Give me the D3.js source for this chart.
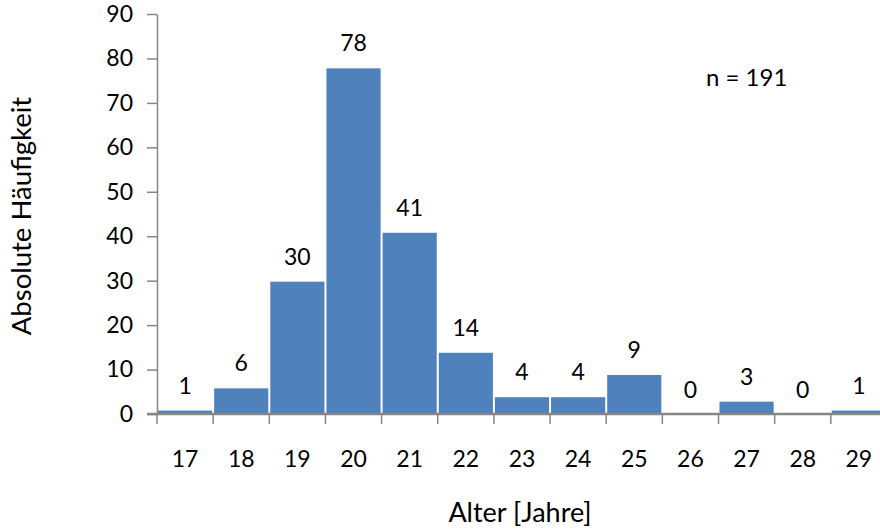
<!DOCTYPE html>
<html><head><meta charset="utf-8">
<script src="https://cdn.jsdelivr.net/npm/d3@7/dist/d3.min.js"></script>
<style>
html,body{margin:0;padding:0;background:#fff;overflow:hidden;}
svg{display:block;font-family:Lato, "Open Sans", sans-serif;}
</style></head>
<body>
<svg id="chart" width="880" height="529"></svg>
<script>
const categories = ["17","18","19","20","21","22","23","24","25","26","27","28","29"];
const counts = [1, 6, 30, 78, 41, 14, 4, 4, 9, 0, 3, 0, 1];
const yTicks = [0, 10, 20, 30, 40, 50, 60, 70, 80, 90];
const xTitle = "Alter [Jahre]";
const yTitle = "Absolute Häufigkeit";
const note = "n = 191";

const svg = d3.select("#chart");
const plotLeft = 157, plotBottom = 414, plotTop = 14, bandW = 56.15;
const x = d3.scaleBand().domain(categories).range([plotLeft, plotLeft + bandW * categories.length]).padding(0);
const y = d3.scaleLinear().domain([0, 90]).range([plotBottom, plotTop]);
const axisColor = "#868686";
const barColor = "#4F81BD";
const fs = "23px";

// bars
svg.append("g").selectAll("rect").data(categories).join("rect")
  .attr("x", d => x(d) + 1)
  .attr("width", x.bandwidth() - 2)
  .attr("y", (d, i) => y(counts[i]) + 1)
  .attr("height", (d, i) => Math.max(0, y(0) - y(counts[i]) - 1))
  .attr("fill", barColor);

// y axis
const yAxis = svg.append("g").attr("transform", `translate(${plotLeft},0)`)
  .call(d3.axisLeft(y).tickValues(yTicks).tickSize(10).tickPadding(14).tickSizeOuter(0));
yAxis.select(".domain").attr("stroke", axisColor).attr("stroke-width", 1.5);
yAxis.selectAll(".tick line").attr("stroke", axisColor).attr("stroke-width", 1.5);
yAxis.selectAll(".tick text").attr("fill", "#000").style("font-size", fs).style("font-family", "Lato");

// x axis line
svg.append("line").attr("x1", plotLeft - 10).attr("x2", 880).attr("y1", y(0)).attr("y2", y(0))
  .attr("stroke", axisColor).attr("stroke-width", 2.5);
// x boundary ticks
svg.append("g").selectAll("line").data(categories).join("line")
  .attr("x1", d => x(d)).attr("x2", d => x(d))
  .attr("y1", y(0)).attr("y2", y(0) + 10)
  .attr("stroke", axisColor).attr("stroke-width", 1.5);
// x labels
const xAxis = svg.append("g").attr("transform", `translate(0,${y(0)})`)
  .call(d3.axisBottom(x).tickSize(0).tickPadding(37));
xAxis.select(".domain").remove();
xAxis.selectAll(".tick text").attr("fill", "#000").style("font-size", fs).style("font-family", "Lato");

// value labels
svg.append("g").selectAll("text").data(categories).join("text")
  .attr("x", d => x(d) + x.bandwidth() / 2)
  .attr("y", (d, i) => y(counts[i]) - 16)
  .attr("text-anchor", "middle")
  .style("font-size", fs).attr("fill", "#000")
  .text((d, i) => counts[i]);

// titles
svg.append("text").attr("x", 520).attr("y", 522).attr("text-anchor", "middle")
  .style("font-size", "27px").attr("fill", "#000").text(xTitle);
svg.append("text").attr("transform", "translate(31,216) rotate(-90)").attr("text-anchor", "middle")
  .style("font-size", "27.5px").attr("fill", "#000").text(yTitle);
svg.append("text").attr("x", 706).attr("y", 86)
  .style("font-size", "24px").attr("fill", "#000").text(note);
</script>
</body></html>
